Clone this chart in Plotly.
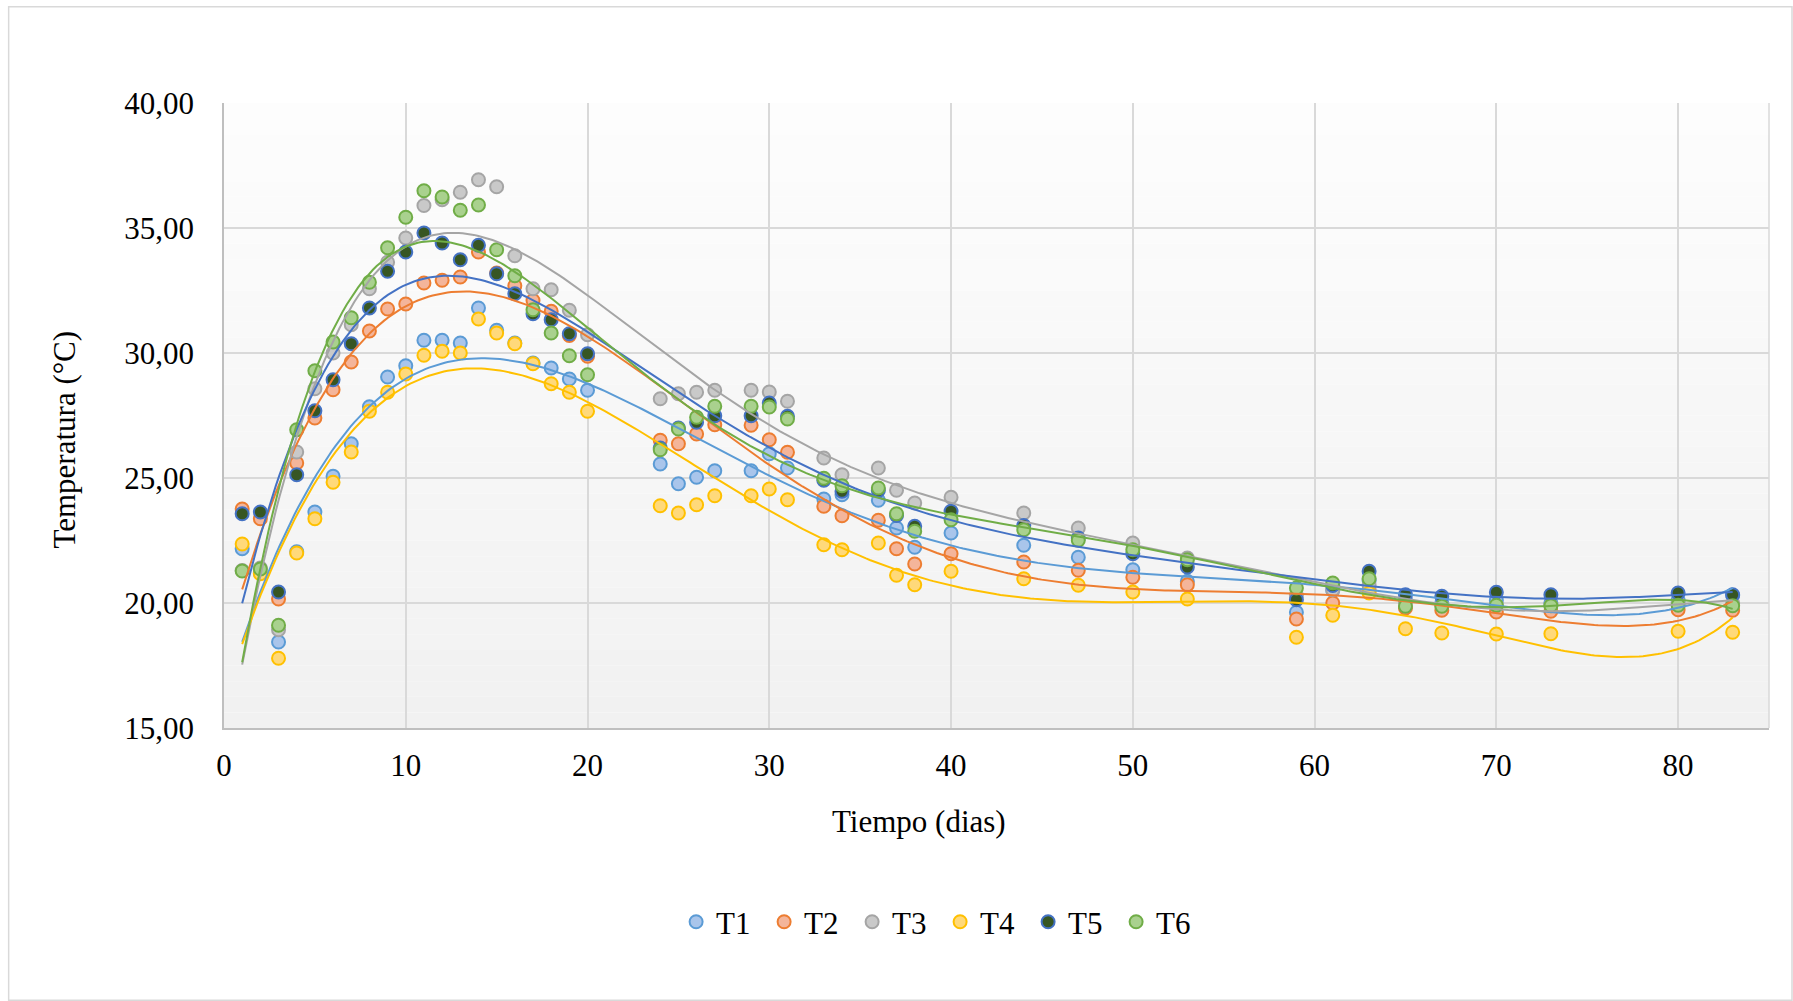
import numpy as np
import plotly.graph_objects as go

days = [1, 2, 3, 4, 5, 6, 7, 8, 9, 10, 11, 12, 13, 14, 15, 16, 17, 18, 19, 20,
        24, 25, 26, 27, 29, 30, 31, 33, 34, 36, 37, 38, 40, 44, 47, 50, 53,
        59, 61, 63, 65, 67, 70, 73, 80, 83]

T1 = [22.17, 21.2, 18.44, 22.05, 23.64, 25.07, 26.37, 27.85, 29.04, 29.49, 30.51, 30.51, 30.4, 31.8, 30.91, 30.4, 29.6, 29.4, 28.96, 28.51,
      25.56, 24.77, 25.03, 25.29, 25.29, 25.97, 25.4, 24.16, 24.33, 24.11, 23.0, 22.23, 22.8, 22.31, 21.83, 21.33, 20.87,
      19.63, 20.5, 20.9, 20.1, 20.0, 20.1, 20.0, 20.1, 20.3]
T2 = [23.76, 23.37, 20.16, 25.6, 27.4, 28.53, 29.64, 30.88, 31.76, 31.96, 32.8, 32.91, 33.04, 34.04, 33.2, 32.69, 32.1, 31.67, 30.7, 29.87,
      26.51, 26.37, 26.76, 27.13, 27.11, 26.53, 26.03, 23.87, 23.49, 23.31, 22.17, 21.56, 21.97, 21.64, 21.31, 21.03, 20.73,
      19.36, 20.0, 20.5, 19.8, 19.71, 19.64, 19.67, 19.73, 19.71]
T3 = [21.3, 21.4, 18.93, 26.04, 28.57, 30.0, 31.13, 32.57, 33.63, 34.6, 35.9, 36.13, 36.43, 36.93, 36.65, 33.89, 32.57, 32.53, 31.71, 30.73,
      28.17, 28.37, 28.43, 28.51, 28.51, 28.44, 28.07, 25.8, 25.13, 25.4, 24.51, 24.0, 24.23, 23.6, 23.0, 22.4, 21.8,
      20.3, 20.53, 20.7, 20.0, 19.9, 19.9, 19.9, 20.0, 20.0]
T4 = [22.36, 21.17, 17.79, 22.0, 23.37, 24.83, 26.04, 27.67, 28.43, 29.16, 29.91, 30.07, 30.0, 31.36, 30.8, 30.37, 29.57, 28.77, 28.43, 27.67,
      23.89, 23.6, 23.93, 24.29, 24.29, 24.56, 24.13, 22.33, 22.13, 22.4, 21.11, 20.73, 21.27, 20.97, 20.71, 20.44, 20.16,
      18.63, 19.51, 20.4, 18.97, 18.8, 18.76, 18.77, 18.87, 18.83]
T5 = [23.57, 23.64, 20.44, 25.13, 27.69, 28.93, 30.37, 31.8, 33.27, 34.04, 34.8, 34.4, 33.73, 34.31, 33.17, 32.37, 31.57, 31.33, 30.77, 29.97,
      26.2, 27.0, 27.23, 27.49, 27.49, 28.0, 27.47, 24.91, 24.47, 24.5, 23.5, 23.07, 23.67, 23.1, 22.6, 21.97, 21.44,
      20.13, 20.7, 21.27, 20.33, 20.27, 20.43, 20.33, 20.4, 20.33]
T6 = [21.28, 21.36, 19.11, 26.93, 29.29, 30.44, 31.41, 32.83, 34.21, 35.43, 36.49, 36.24, 35.71, 35.92, 34.13, 33.09, 31.73, 30.8, 29.89, 29.13,
      26.13, 26.96, 27.43, 27.87, 27.87, 27.84, 27.36, 24.99, 24.69, 24.6, 23.57, 22.87, 23.33, 22.93, 22.51, 22.13, 21.73,
      20.6, 20.8, 20.97, 19.87, 19.87, 19.91, 19.89, 19.91, 19.89]

names = ["T1", "T2", "T3", "T4", "T5", "T6"]
series = [T1, T2, T3, T4, T5, T6]
fills = ["#A9C5EB", "#F4B59A", "#C9C9C9", "#FFD97A", "#375623", "#A9D18E"]
lines = ["#5B9BD5", "#ED7D31", "#A5A5A5", "#FFC000", "#4472C4", "#70AD47"]

FONT = "Liberation Serif, Times New Roman, serif"
fig = go.Figure()

x = np.array(days, dtype=float)
xs = np.linspace(x.min(), x.max(), 400)

for n, s, fc, lc in zip(names, series, fills, lines):
    fig.add_trace(go.Scatter(
        x=days, y=s, mode="markers", name=n,
        marker=dict(size=13, color=fc, line=dict(color=lc, width=2)),
    ))

for n, s, lc in zip(names, series, lines):
    coef = np.polyfit(x, np.array(s), 6)
    fig.add_trace(go.Scatter(
        x=xs, y=np.polyval(coef, xs), mode="lines", showlegend=False,
        line=dict(color=lc, width=2), hoverinfo="skip", name=n + " trend",
    ))

# plot-area vertical gradient (white to light gray)
shapes = []
N = 40
for i in range(N):
    t = i / (N - 1)
    g = int(round(253 - t * (253 - 241)))
    shapes.append(dict(type="rect", xref="x domain", yref="y domain",
                       x0=0, x1=1, y0=1 - (i + 1) / N, y1=1 - i / N,
                       fillcolor=f"rgb({g},{g},{g})", line=dict(width=0), layer="below"))
# right border of plot area
shapes.append(dict(type="line", xref="x domain", yref="y domain", x0=1, x1=1, y0=0, y1=1,
                   line=dict(color="#D9D9D9", width=1.5), layer="below"))
# chart-area border
shapes.append(dict(type="rect", xref="paper", yref="paper",
                   x0=(9 - 224.3) / 1544.7, x1=(1792 - 224.3) / 1544.7,
                   y0=(728 - 1000) / 624.7, y1=(728 - 7) / 624.7,
                   line=dict(color="#D9D9D9", width=1.5), fillcolor="rgba(0,0,0,0)", layer="below"))

fig.update_layout(
    width=1793, height=1001,
    margin=dict(l=224, r=24, t=103, b=273),
    paper_bgcolor="white", plot_bgcolor="rgba(0,0,0,0)",
    separators=",.",
    font=dict(family=FONT, size=31, color="black"),
    shapes=shapes,
    showlegend=True,
    legend=dict(orientation="h", x=0.4635, xanchor="center", y=(728 - 922) / 624.7, yanchor="middle",
                font=dict(family=FONT, size=31), entrywidth=43, entrywidthmode="pixels",
                itemclick=False),
    annotations=[
        dict(text="Temperatura (°C)", xref="paper", yref="paper", x=(65 - 224.3) / 1544.7,
             y=(728 - 440) / 624.7, showarrow=False, textangle=-90,
             font=dict(family=FONT, size=31), xanchor="center", yanchor="middle"),
        dict(text="Tiempo (dias)", xref="paper", yref="paper", x=(919 - 224.3) / 1544.7,
             y=(728 - 821) / 624.7, showarrow=False,
             font=dict(family=FONT, size=31), xanchor="center", yanchor="middle"),
    ],
)

fig.update_xaxes(range=[0, 85], tick0=0, dtick=10, showgrid=True, gridcolor="#D9D9D9", gridwidth=1.5,
                 zeroline=False, showline=True, linecolor="#BFBFBF", linewidth=1.5,
                 ticks="outside", ticklen=9, tickcolor="rgba(0,0,0,0)",
                 tickfont=dict(family=FONT, size=31))
fig.update_yaxes(range=[15, 40], tick0=15, dtick=5, tickformat=".2f", showgrid=True,
                 gridcolor="#D9D9D9", gridwidth=1.5, zeroline=False, showline=True,
                 linecolor="#BFBFBF", linewidth=1.5,
                 ticks="outside", ticklen=22, tickcolor="rgba(0,0,0,0)",
                 tickfont=dict(family=FONT, size=31))

fig.write_html("out.html")
